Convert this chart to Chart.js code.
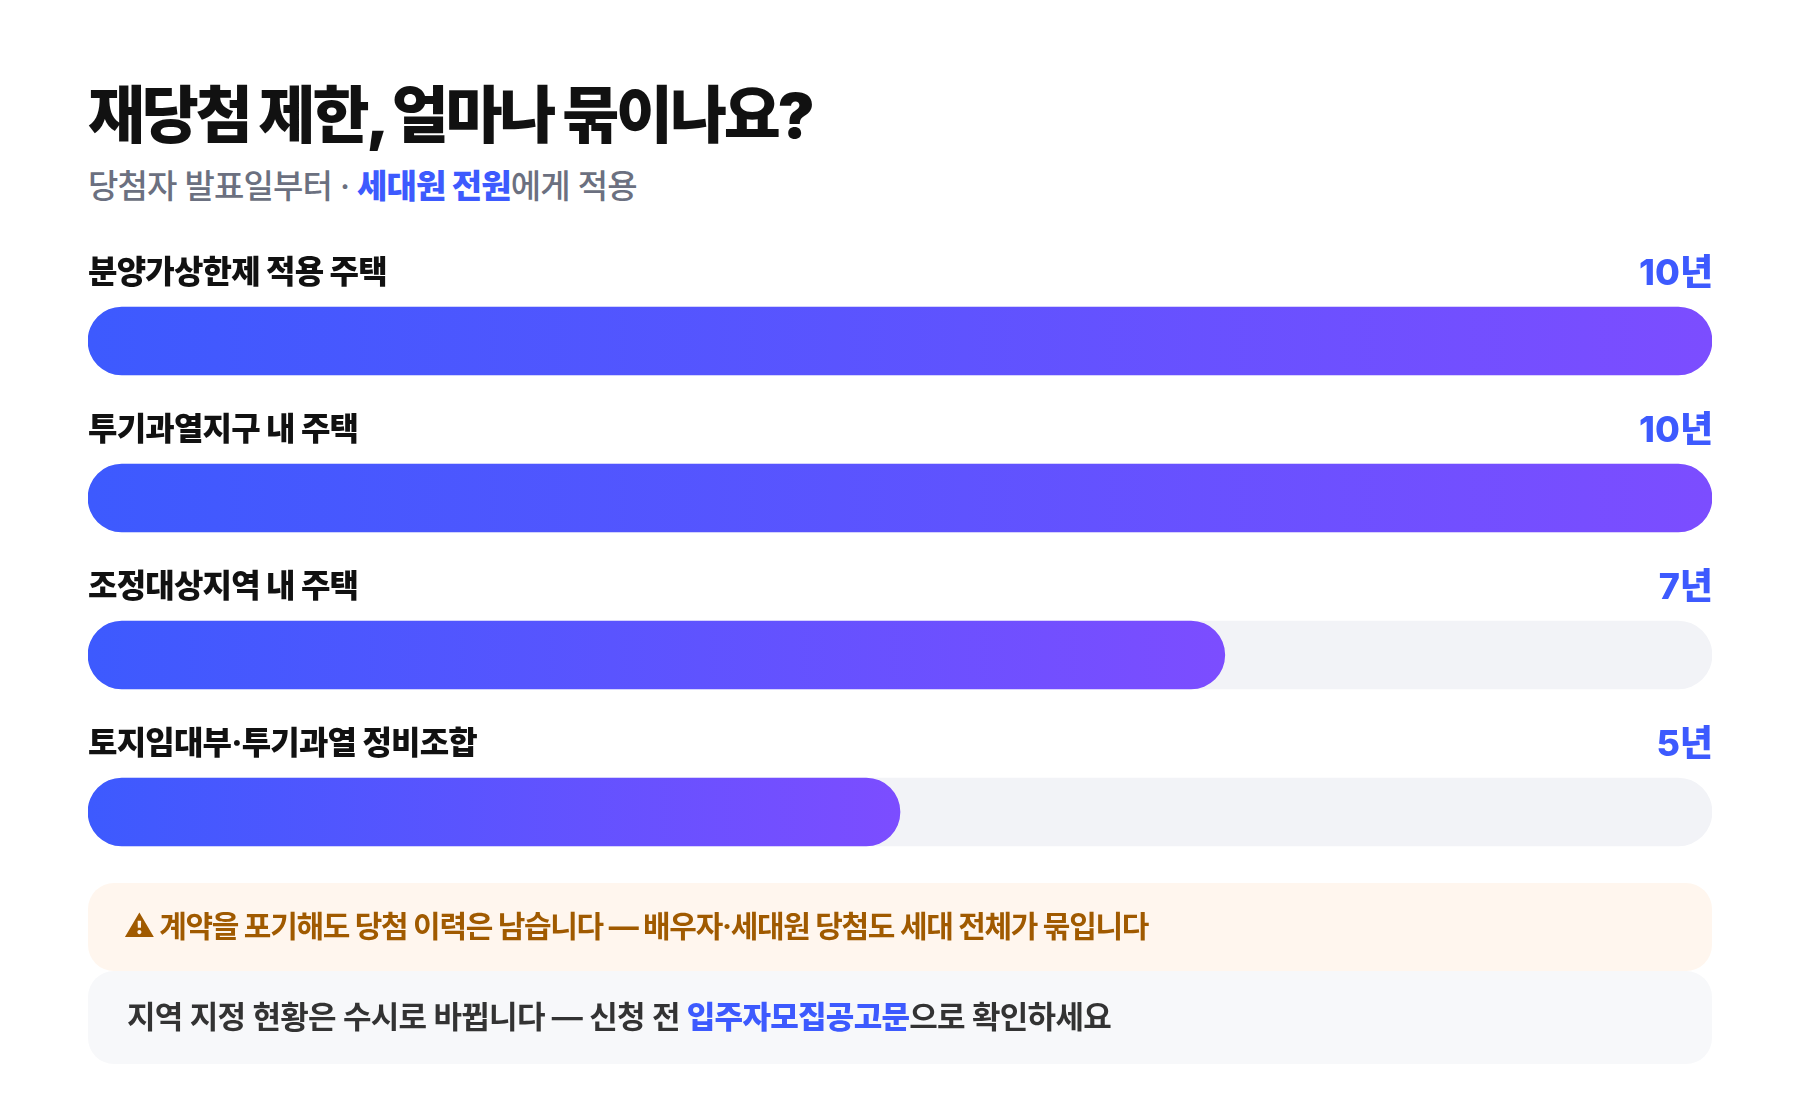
<!DOCTYPE html>
<html lang="ko">
<head>
<meta charset="utf-8">
<title>재당첨 제한</title>
<script src="https://cdn.jsdelivr.net/npm/chart.js@4/dist/chart.umd.min.js"></script>
<style>
    html, body { margin: 0; background: #fff; }
    body { width: 1800px; height: 1120px; position: relative; overflow: hidden; font-family: Inter, "Noto Sans CJK KR", sans-serif; color: #111; }
    .abs { position: absolute; white-space: nowrap; }
    #title { left: 88px; top: 74px; font-size: 62px; line-height: 84px; font-weight: 900; letter-spacing: -0.052em; color: #111; }
    #subtitle { left: 88px; top: 164px; font-size: 33px; line-height: 44px; font-weight: 500; letter-spacing: -0.026em; color: #6b7080; }
    .blue { color: #3d5afe; font-weight: 800; }
    #chart-wrap { left: 88px; top: 262px; width: 1624px; height: 629px; }
    .row-label { left: 88px; font-size: 32px; line-height: 44px; font-weight: 800; letter-spacing: -0.025em; color: #111; }
    .row-value { right: 87px; font-size: 36px; line-height: 44px; font-weight: 800; letter-spacing: 0; color: #3d5afe; }
    .note { left: 88px; width: 1624px; border-radius: 26px; }
    #warn-box { top: 883px; height: 88px; background: #fff6ee; }
    #info-box { top: 971px; height: 93px; background: #f7f8fa; }
    #warn-text { left: 124px; top: 903px; font-size: 30px; line-height: 46px; font-weight: 700; letter-spacing: -0.044em; color: #a05a00; }
    #info-text { left: 127px; top: 994px; font-size: 31px; line-height: 46px; font-weight: 600; letter-spacing: -0.023em; color: #333; }
</style>
</head>
<body>
<div class="abs" id="title">재당첨 제한, 얼마나 묶이나요?</div>
<div class="abs" id="subtitle">당첨자 발표일부터 · <span class="blue">세대원 전원</span>에게 적용</div>
<div class="abs" id="chart-wrap"><canvas id="chart-years"></canvas></div>
<div class="abs note" id="warn-box"></div>
<div class="abs note" id="info-box"></div>
<div class="abs" id="warn-text">⚠ 계약을 포기해도 당첨 이력은 남습니다 — 배우자·세대원 당첨도 세대 전체가 묶입니다</div>
<div class="abs" id="info-text">지역 지정 현황은 수시로 바뀝니다 — 신청 전 <span class="blue">입주자모집공고문</span>으로 확인하세요</div>
<script>
// data
const categories = ['분양가상한제 적용 주택', '투기과열지구 내 주택', '조정대상지역 내 주택', '토지임대부·투기과열 정비조합'];
const years = [10, 10, 7, 5];
const maxYears = [10, 10, 10, 10];

document.addEventListener('DOMContentLoaded', () => {
    drawRowLabels();
    initChart();
});

function drawRowLabels() {
    categories.forEach((name, i) => {
        const top = 250 + i * 157;
        const label = document.createElement('div');
        label.className = 'abs row-label';
        label.style.top = top + 'px';
        label.innerText = name;
        document.body.appendChild(label);

        const value = document.createElement('div');
        value.className = 'abs row-value';
        value.style.top = top + 'px';
        value.innerText = years[i] + '년';
        document.body.appendChild(value);
    });
}

// each bar fades across its own length, so short bars still end in violet
function barGradient(ctx) {
    const { chart, dataIndex } = ctx;
    // scales have no size on the first pass, before layout
    if (!chart.chartArea) return '#3d5afe';
    const x = chart.scales.x;
    const g = chart.ctx.createLinearGradient(x.getPixelForValue(0), 0, x.getPixelForValue(years[dataIndex]), 0);
    g.addColorStop(0, '#3d5afe');
    g.addColorStop(1, '#7c4dff');
    return g;
}

function initChart() {
    new Chart(document.getElementById('chart-years'), {
        type: 'bar',
        data: {
            labels: categories,
            datasets: [
                { label: '제한 기간', data: years, backgroundColor: barGradient, barThickness: 68, borderRadius: 34, borderSkipped: false, grouped: false },
                { label: '최대', data: maxYears, backgroundColor: '#f2f3f7', barThickness: 68, borderRadius: 34, borderSkipped: false, grouped: false }
            ]
        },
        options: {
            indexAxis: 'y',
            responsive: true,
            maintainAspectRatio: false,
            animation: false,
            // half a pixel each side keeps the bar edges on whole pixels
            layout: { padding: { top: 0.5, bottom: 0.5 } },
            plugins: { legend: { display: false }, tooltip: { enabled: false } },
            scales: {
                x: { display: false, min: 0, max: 10 },
                y: { display: false }
            }
        }
    });
}
</script>
</body>
</html>
